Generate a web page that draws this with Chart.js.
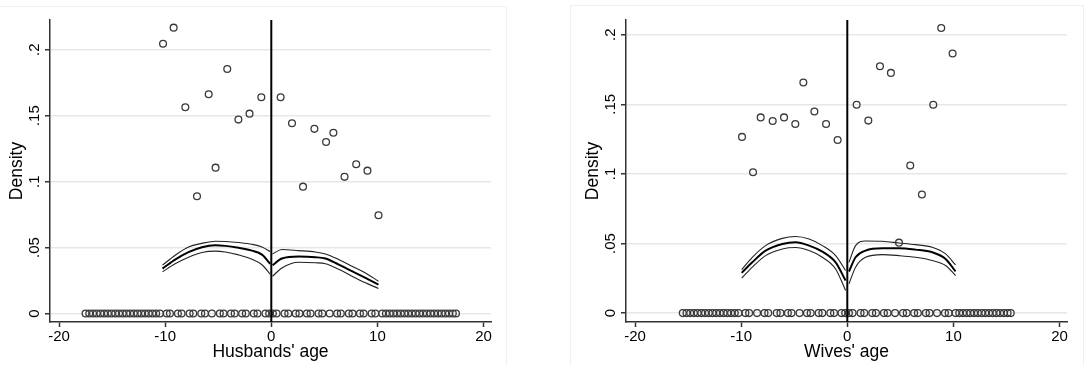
<!DOCTYPE html>
<html>
<head>
<meta charset="utf-8">
<script src="https://cdn.jsdelivr.net/npm/chart.js@4/dist/chart.umd.min.js"></script>
<style>
  body { margin: 0; background: #fff; width: 1084px; height: 366px; overflow: hidden; position: relative; }
  .frame { position: absolute; border: 1px solid #eef0f2; }
  canvas { position: absolute; top: 0; }
</style>
</head>
<body>
<div class="frame" style="left:-1px; top:6px; width:506px; height:370px;"></div>
<div class="frame" style="left:570px; top:5px; width:512px; height:370px;"></div>
<canvas id="husbandsChart" width="508" height="366" style="left:0px"></canvas>
<canvas id="wivesChart" width="508" height="366" style="left:576px"></canvas>
<script>
// axis ticks
const xTicks = [-20, -10, 0, 10, 20];
const yTicks = [0, 0.05, 0.1, 0.15, 0.2];
const yTickLabels = ['0', '.05', '.1', '.15', '.2'];
const cutoff = 0;

// Husbands' age panel
const hScatterX = [-10.2, -9.2, -8.1, -7.0, -5.9, -5.25, -4.15, -3.1, -2.05, -0.94, 0.88, 1.95, 2.99, 4.06, 5.16, 5.85, 6.9, 8.0, 9.06, 10.1];
const hScatterY = [0.2045, 0.2167, 0.1564, 0.0889, 0.1662, 0.1106, 0.1854, 0.147, 0.1515, 0.1639, 0.1639, 0.1442, 0.0962, 0.140, 0.130, 0.137, 0.1036, 0.1132, 0.1083, 0.0745];
const hZeroX = [-17.5, -17.15, -16.8, -16.45, -16.1, -15.75, -15.4, -15.05, -14.7, -14.35, -14.0, -13.65, -13.3, -12.95, -12.6, -12.25, -11.9, -11.55, -11.2, -10.85, -10.5,
  -9.85, -9.55, -8.8, -8.45, -7.7, -7.35, -6.6, -6.25, -5.6, -4.85, -4.5, -3.8, -3.45, -2.75, -2.4, -1.65, -1.3, -0.55, -0.2, 0.15, 0.5,
  1.25, 1.6, 2.3, 2.65, 3.35, 3.7, 4.45, 4.8, 5.5, 6.2, 6.55, 7.3, 7.65, 8.35, 8.7, 9.45, 9.8,
  10.45, 10.8, 11.15, 11.5, 11.85, 12.2, 12.55, 12.9, 13.25, 13.6, 13.95, 14.3, 14.65, 15.0, 15.35, 15.7, 16.05, 16.4, 16.75, 17.1, 17.4];
const hLeftX = [-10.25, -9.06, -7.8, -6.54, -5.28, -4.34, -3.08, -1.82, -0.88, -0.1];
const hLeftMid = [0.0341, 0.0409, 0.0465, 0.0503, 0.0518, 0.0513, 0.0498, 0.0477, 0.0447, 0.0377];
const hLeftHi = [0.0367, 0.0442, 0.0505, 0.0532, 0.0548, 0.0546, 0.0538, 0.0525, 0.0505, 0.047];
const hLeftLo = [0.0316, 0.0377, 0.0427, 0.0463, 0.0473, 0.0467, 0.0445, 0.0412, 0.037, 0.0298];
const hRightX = [0.12, 1.0, 2.58, 4.15, 5.1, 6.35, 7.6, 8.87, 10.1];
const hRightMid = [0.0367, 0.0417, 0.0432, 0.0427, 0.0417, 0.0371, 0.0321, 0.027, 0.022];
const hRightHi = [0.0452, 0.0485, 0.0477, 0.0467, 0.0452, 0.041, 0.0359, 0.0308, 0.0245];
const hRightLo = [0.0283, 0.0346, 0.0389, 0.0385, 0.0378, 0.0335, 0.0283, 0.0233, 0.019];

// Wives' age panel
const wScatterX = [-9.92, -8.88, -8.16, -7.03, -5.96, -4.9, -4.14, -3.1, -2.0, -0.91, 0.88, 1.98, 3.08, 4.11, 4.87, 5.93, 7.03, 8.1, 8.85, 9.92];
const wScatterY = [0.1266, 0.1012, 0.1406, 0.138, 0.1406, 0.1359, 0.1657, 0.1449, 0.1359, 0.1244, 0.1497, 0.1383, 0.1774, 0.1726, 0.0506, 0.106, 0.0852, 0.1497, 0.2049, 0.1865];
const wZeroX = [-15.5, -15.15, -14.8, -14.45, -14.1, -13.75, -13.4, -13.05, -12.7, -12.35, -12.0, -11.65, -11.3, -10.95, -10.6, -10.25,
  -9.6, -9.25, -8.5, -7.8, -7.45, -6.65, -6.3, -5.6, -5.25, -4.5, -3.8, -3.45, -2.7, -2.35, -1.6, -1.25, -0.55, -0.2, 0.15, 0.5,
  1.25, 1.6, 2.35, 2.7, 3.45, 3.8, 4.5, 5.25, 5.6, 6.3, 6.65, 7.4, 7.75, 8.45, 9.2, 9.55,
  10.2, 10.55, 10.9, 11.25, 11.6, 11.95, 12.3, 12.65, 13.0, 13.35, 13.7, 14.05, 14.4, 14.75, 15.1, 15.4];
const wLeftX = [-9.95, -8.95, -7.7, -6.12, -4.87, -3.6, -2.35, -1.1, -0.16];
const wLeftMid = [0.0289, 0.0365, 0.0449, 0.0497, 0.0509, 0.0485, 0.0442, 0.0365, 0.0234];
const wLeftHi = [0.0313, 0.0401, 0.0485, 0.0537, 0.055, 0.0532, 0.0485, 0.0413, 0.0306];
const wLeftLo = [0.0251, 0.033, 0.0413, 0.0461, 0.0471, 0.0449, 0.0401, 0.0317, 0.0163];
const wRightX = [0.16, 0.78, 1.72, 3.3, 4.87, 6.43, 8.0, 9.26, 10.2];
const wRightMid = [0.0299, 0.0401, 0.0449, 0.0466, 0.0466, 0.0456, 0.0437, 0.0389, 0.0299];
const wRightHi = [0.0365, 0.0485, 0.0518, 0.0516, 0.0504, 0.0492, 0.0473, 0.0425, 0.0346];
const wRightLo = [0.021, 0.033, 0.0401, 0.042, 0.0413, 0.0401, 0.0378, 0.0342, 0.027];

const FONT = "'Liberation Sans', Arial, sans-serif";

function pts(xs, ys) {
    return xs.map((x, i) => ({ x: x, y: ys[i] }));
}

function circles(data) {
    return {
        type: 'scatter',
        data: data,
        pointStyle: 'circle',
        pointRadius: 3.4,
        pointBorderWidth: 1.3,
        pointBorderColor: '#3a3a3a',
        pointBackgroundColor: 'rgba(0,0,0,0)',
        showLine: false
    };
}

function curve(xs, ys, width, color) {
    return {
        type: 'scatter',
        data: pts(xs, ys),
        showLine: true,
        borderColor: color,
        borderWidth: width,
        pointRadius: 0,
        cubicInterpolationMode: 'monotone',
        fill: false
    };
}

const cutoffLine = {
    id: 'cutoffLine',
    afterDatasetsDraw(chart) {
        const ctx = chart.ctx;
        const area = chart.chartArea;
        const px = chart.scales.x.getPixelForValue(cutoff);
        ctx.save();
        ctx.strokeStyle = '#000';
        ctx.lineWidth = 2;
        ctx.beginPath();
        ctx.moveTo(px, area.top);
        ctx.lineTo(px, area.bottom);
        ctx.stroke();
        ctx.restore();
    }
};

function makePanel(id, title, s, yMax) {
    const ctx = document.getElementById(id).getContext('2d');
    new Chart(ctx, {
        type: 'scatter',
        data: {
            datasets: [
                circles(pts(s.zeroX, s.zeroX.map(() => 0))),
                circles(pts(s.scatterX, s.scatterY)),
                curve(s.leftX, s.leftHi, 1.1, '#222'),
                curve(s.leftX, s.leftLo, 1.1, '#222'),
                curve(s.leftX, s.leftMid, 2, '#000'),
                curve(s.rightX, s.rightHi, 1.1, '#222'),
                curve(s.rightX, s.rightLo, 1.1, '#222'),
                curve(s.rightX, s.rightMid, 2, '#000')
            ]
        },
        options: {
            responsive: false,
            animation: false,
            devicePixelRatio: 1,
            layout: { padding: { top: 20, right: 17, left: 0, bottom: 0 } },
            plugins: { legend: { display: false }, tooltip: { enabled: false } },
            scales: {
                x: {
                    type: 'linear',
                    min: -20.85,
                    max: 20.7,
                    afterBuildTicks: (scale) => { scale.ticks = xTicks.map(v => ({ value: v })); },
                    afterFit: (scale) => { scale.height = 44; },
                    border: { color: '#333', width: 1.5 },
                    grid: { drawOnChartArea: false, drawTicks: true, tickLength: 5, tickColor: '#333', tickWidth: 1.5 },
                    ticks: { color: '#000', font: { family: FONT, size: 15 }, padding: 1, maxRotation: 0 },
                    title: { display: true, text: title, color: '#000', font: { family: FONT, size: 17.5 }, padding: { top: 0, bottom: 3 } }
                },
                y: {
                    type: 'linear',
                    min: -0.0064,
                    max: yMax,
                    afterBuildTicks: (scale) => { scale.ticks = yTicks.map(v => ({ value: v })); },
                    afterFit: (scale) => { scale.width = 50; },
                    border: { color: '#333', width: 1.5 },
                    grid: { color: '#e3e8ec', lineWidth: 1.5, drawTicks: true, tickLength: 5, tickColor: '#333', tickWidth: 1.5 },
                    ticks: {
                        color: '#000',
                        font: { family: FONT, size: 15 },
                        padding: 0,
                        minRotation: 90,
                        maxRotation: 90,
                        crossAlign: 'center',
                        callback: (v, i) => yTickLabels[i]
                    },
                    title: { display: true, text: 'Density', color: '#000', font: { family: FONT, size: 17.5 }, padding: { top: 7, bottom: 0 } }
                }
            }
        },
        plugins: [cutoffLine]
    });
}

makePanel('husbandsChart', "Husbands' age", {
    zeroX: hZeroX, scatterX: hScatterX, scatterY: hScatterY,
    leftX: hLeftX, leftMid: hLeftMid, leftHi: hLeftHi, leftLo: hLeftLo,
    rightX: hRightX, rightMid: hRightMid, rightHi: hRightHi, rightLo: hRightLo
}, 0.2225);

makePanel('wivesChart', "Wives' age", {
    zeroX: wZeroX, scatterX: wScatterX, scatterY: wScatterY,
    leftX: wLeftX, leftMid: wLeftMid, leftHi: wLeftHi, leftLo: wLeftLo,
    rightX: wRightX, rightMid: wRightMid, rightHi: wRightHi, rightLo: wRightLo
}, 0.2106);
</script>
</body>
</html>
